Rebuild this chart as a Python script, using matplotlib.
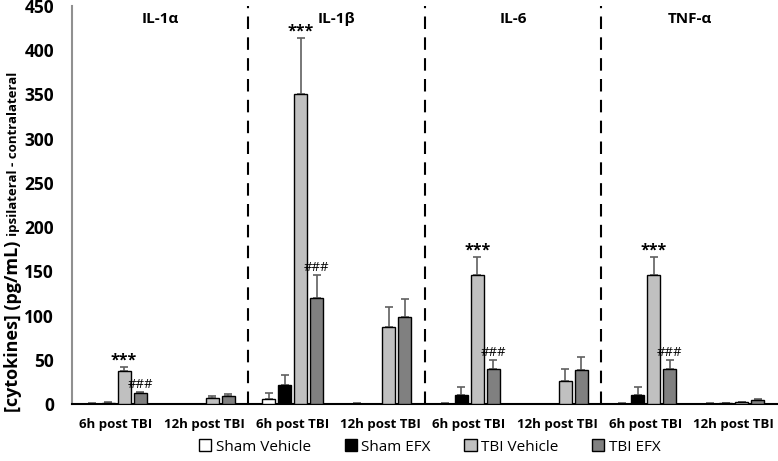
import matplotlib.pyplot as plt
import numpy as np

plt.rcParams['font.family'] = ['Open Sans', 'DejaVu Sans']

# =============================================================================
# data
# =============================================================================
cytokines = ['IL-1\u03b1', 'IL-1\u03b2', 'IL-6', 'TNF-\u03b1']
times = ['6h post TBI', '12h post TBI']
groups = ['Sham Vehicle', 'Sham EFX', 'TBI Vehicle', 'TBI EFX']

# one row per cytokine/time (IL-1a 6h, IL-1a 12h, IL-1b 6h, ...)
sham_vehicle = [0.5, 0.0, 6, 0.5, 0.5, 0.0, 0.5, 0.3]
sham_vehicle_err = [0.5, 0.0, 6, 0.5, 0.3, 0.0, 0.3, 0.3]
sham_efx = [1.5, 0.0, 21, 0.0, 10, 0.0, 10, 0.8]
sham_efx_err = [1.0, 0.0, 12, 0.0, 9, 0.0, 9, 0.5]
tbi_vehicle = [37, 7, 350, 87, 146, 26, 146, 2]
tbi_vehicle_err = [5, 2, 64, 23, 20, 14, 20, 0.8]
tbi_efx = [12, 9, 120, 98, 40, 39, 40, 4]
tbi_efx_err = [2, 2, 26, 21, 10, 14, 10, 1.2]

stars = ['***', '', '***', '', '***', '', '***', '']
hashes = ['###', '', '###', '', '###', '', '###', '']

colors = ['white', 'black', '#c0c0c0', '#808080']

fig = plt.figure(figsize=(7.78, 4.61), dpi=100)
ax = fig.add_axes([0.0925, 0.1236, 0.9075, 0.8634])

x = np.arange(len(sham_vehicle))
w = 0.148
step = 0.182
vals = [sham_vehicle, sham_efx, tbi_vehicle, tbi_efx]
errs = [sham_vehicle_err, sham_efx_err, tbi_vehicle_err, tbi_efx_err]
for k in range(4):
    pos = x + (k - 1.5) * step
    ax.bar(pos, vals[k], width=w, color=colors[k], edgecolor='black',
           linewidth=1.0, label=groups[k], zorder=3)
    ax.errorbar(pos, vals[k], yerr=[np.zeros(len(x)), errs[k]], fmt='none',
                ecolor='#606060', elinewidth=1.2, capsize=3, capthick=1.2,
                zorder=2)

# significance marks
for i in range(len(x)):
    if stars[i]:
        p = x[i] + 0.5 * step
        ax.text(p, tbi_vehicle[i] + tbi_vehicle_err[i] - 2, stars[i],
                ha='center', va='bottom', fontsize=11.5, fontweight='bold')
    if hashes[i]:
        p = x[i] + 1.5 * step
        ax.text(p, tbi_efx[i] + tbi_efx_err[i] + 1, hashes[i],
                ha='center', va='bottom', fontsize=9.5)

# panel separators and titles
for j in range(1, 4):
    ax.axvline(2 * j - 0.5, color='black', ls=(0, (6, 4)), lw=1.5, zorder=1)
for j, c in enumerate(cytokines):
    ax.text(2 * j + 0.5, 443, c, ha='center', va='top', fontsize=11,
            fontweight='bold')

ax.set_xlim(-0.5, len(x) - 0.5)
ax.set_ylim(0, 450)
ax.set_yticks(np.arange(0, 451, 50))
ax.set_xticks(x)
ax.set_xticklabels(times * 4, fontsize=9.5, fontweight='bold')
ax.tick_params(axis='x', length=0, pad=10)
ax.tick_params(axis='y', length=0, labelsize=12.5, pad=13)
for lab in ax.get_yticklabels():
    lab.set_fontweight('bold')

ax.spines['top'].set_visible(False)
ax.spines['right'].set_visible(False)
ax.spines['left'].set_color('#909090')
ax.spines['left'].set_linewidth(1.5)
ax.spines['bottom'].set_linewidth(1.5)

# y label in two sizes
t1 = fig.text(0.017, 0.106, '[cytokines] (pg/mL)', rotation=90, ha='center',
              va='bottom', fontsize=13, fontweight='bold')
fig.canvas.draw()
bb = t1.get_window_extent()
fig.text(0.017, (bb.y1 + 5) / fig.bbox.height, 'ipsilateral - contralateral',
         rotation=90, ha='center', va='bottom', fontsize=9.5, fontweight='bold')

ax.legend(loc='center', bbox_to_anchor=(0.507, -0.108), ncol=4,
          frameon=False, fontsize=11, handlelength=0.8, handleheight=0.8,
          handletextpad=0.3, columnspacing=2.2)

fig.savefig('out.png', dpi=100)
